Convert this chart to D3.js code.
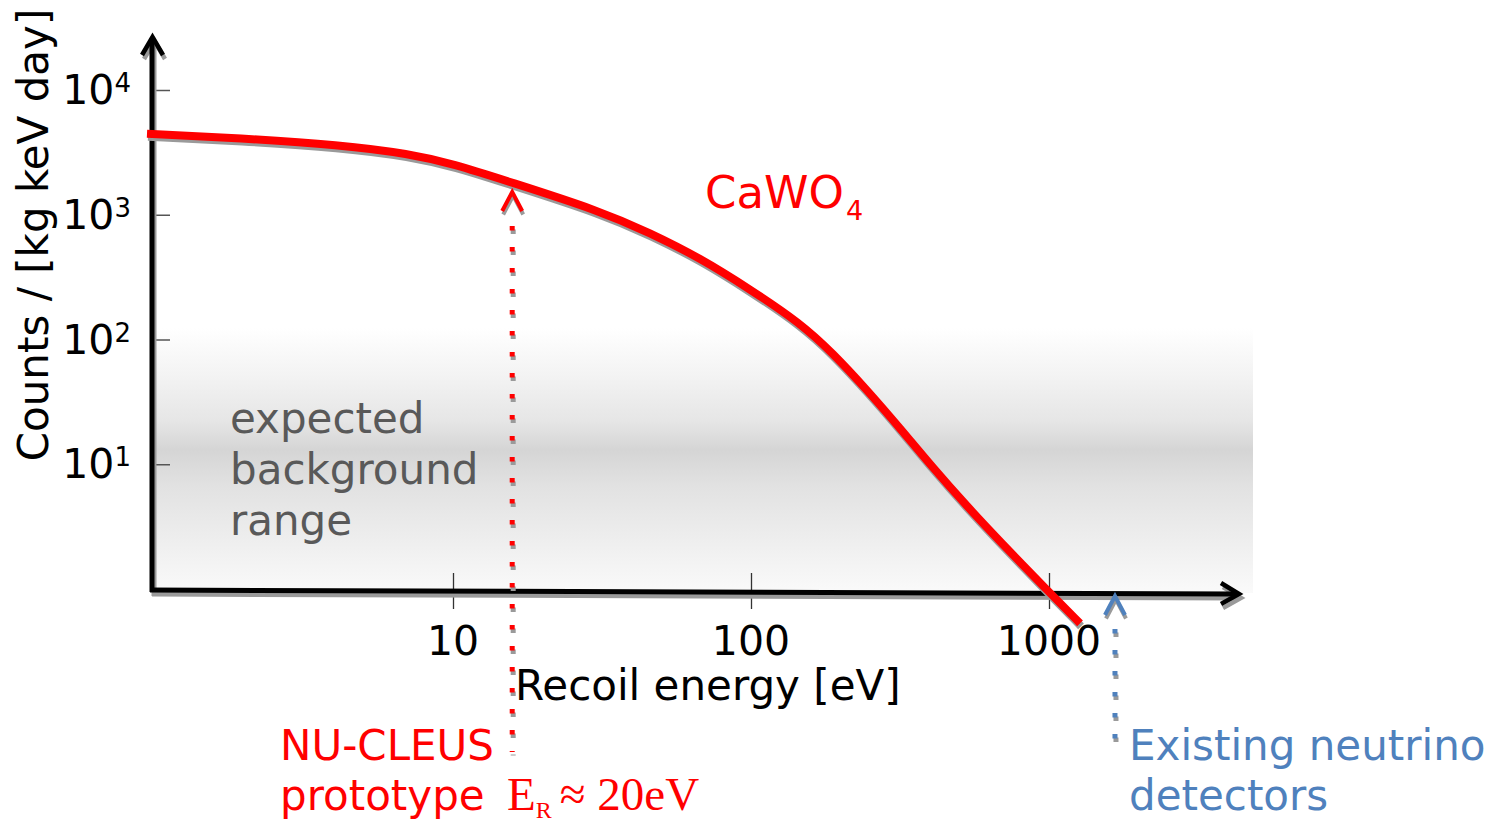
<!DOCTYPE html>
<html>
<head>
<meta charset="utf-8">
<script src="https://cdn.jsdelivr.net/npm/d3@7"></script>
<style>
  html, body { margin: 0; padding: 0; background: #fff; }
  svg { display: block; }
  text { font-family: "DejaVu Sans", sans-serif; }
</style>
</head>
<body>
<svg id="chart" width="1499" height="823"></svg>
<script>
// ---- data ----
const energies = [0.94, 1.93, 4.18, 7.17, 10, 15.5, 31.1, 45.8, 67.4, 100, 146, 188, 245, 316, 408, 531, 685, 1007, 1271]; // eV
const counts   = [4455, 4113, 3637, 3078, 2560, 1836, 1075, 716, 451, 250, 136, 78, 39.4, 19.5, 9.34, 4.6, 2.4, 0.93, 0.53];
const xTickValues = [10, 100, 1000];
const xTickLabels = ["10", "100", "1000"];
const yTickValues = [10, 100, 1000, 10000];
const yTickExponents = ["1", "2", "3", "4"];
const nucleusEnergy = 15.8;    // eV, NU-CLEUS prototype threshold marker
const existingEnergy = 1665;   // eV, existing neutrino detectors marker

const svg = d3.select("#chart");
const x = d3.scaleLog().domain([1, 10000]).range([155, 1347]);
const y = d3.scaleLog().domain([1, 10000]).range([589, 90]);

const RED = "#ff0000", BLUE = "#4f81bd", SHADOW = "#9a9a9a";

// ---- background gradient band ----
const defs = svg.append("defs");
const grad = defs.append("linearGradient").attr("id", "bg").attr("x1", 0).attr("y1", 0).attr("x2", 0).attr("y2", 1);
[[0, "#ffffff"], [0.18, "#f3f3f3"], [0.35, "#e6e6e6"], [0.46, "#d5d5d5"], [0.6, "#e2e2e2"], [0.8, "#eeeeee"], [1, "#fafafa"]]
  .forEach(([o, c]) => grad.append("stop").attr("offset", o).attr("stop-color", c));
svg.append("rect").attr("x", 152).attr("y", 328).attr("width", 1101).attr("height", 265).attr("fill", "url(#bg)");

// ---- background label ----
const bgText = svg.append("text").attr("x", 230).attr("font-size", 42).attr("fill", "#595959");
["expected", "background", "range"].forEach((t, i) =>
  bgText.append("tspan").attr("x", 230).attr("y", 433 + i * 51).text(t));

// ---- ticks ----
const gx = svg.append("g").attr("transform", "translate(0,591)")
  .call(d3.axisBottom(x).tickValues(xTickValues).tickSize(18).tickFormat(""));
gx.select(".domain").remove();
gx.selectAll(".tick line").attr("y1", -18).attr("stroke", "#333").attr("stroke-width", 1.3);

const gy = svg.append("g").attr("transform", "translate(152,0)")
  .call(d3.axisLeft(y).tickValues(yTickValues).tickSize(19).tickFormat(""));
gy.select(".domain").remove();
gy.selectAll(".tick line").attr("x2", 18).attr("stroke", "#555").attr("stroke-width", 1.5);

// x tick labels
svg.selectAll(".xlab").data(xTickValues).enter().append("text")
  .attr("class", "xlab").attr("x", d => x(d)).attr("y", 655)
  .attr("text-anchor", "middle").attr("font-size", 41).attr("fill", "#000")
  .text((d, i) => xTickLabels[i]);

// y tick labels (10^n)
yTickValues.forEach((v, i) => {
  const t = svg.append("text").attr("x", 131).attr("y", y(v) + 14)
    .attr("text-anchor", "end").attr("font-size", 41).attr("fill", "#000");
  t.append("tspan").text("10");
  t.append("tspan").attr("font-size", 26).attr("dy", -12).text(yTickExponents[i]);
});

// ---- axes with arrows and shadows ----
function axisLines(g, color, w) {
  g.append("line").attr("x1", 152).attr("y1", 592).attr("x2", 152).attr("y2", 38)
    .attr("stroke", color).attr("stroke-width", w);
  g.append("polyline").attr("points", "142,55 152.5,37 163,55")
    .attr("fill", "none").attr("stroke", color).attr("stroke-width", w - 0.5);
  g.append("line").attr("x1", 150).attr("y1", 590).attr("x2", 1237).attr("y2", 594)
    .attr("stroke", color).attr("stroke-width", w);
  g.append("polyline").attr("points", "1221,583 1239,594 1221,604")
    .attr("fill", "none").attr("stroke", color).attr("stroke-width", w - 0.5);
}
axisLines(svg.append("g").attr("transform", "translate(2,4)"), SHADOW, 5);
axisLines(svg.append("g"), "#000", 5);

// ---- curve ----
const pts = energies.map((e, i) => [e, counts[i]]);
const line = d3.line().x(d => x(d[0])).y(d => y(d[1])).curve(d3.curveBasis);
svg.append("path").attr("d", line(pts)).attr("transform", "translate(1,3)")
  .attr("fill", "none").attr("stroke", SHADOW).attr("stroke-width", 8);
svg.append("path").attr("d", line(pts))
  .attr("fill", "none").attr("stroke", RED).attr("stroke-width", 8);

// ---- dotted marker arrows ----
function marker(xp, yTip, yStart, yEnd, color) {
  [[SHADOW, 1, 3.5], [color, 0, 0]].forEach(([c, dx, dy]) => {
    const g = svg.append("g").attr("transform", `translate(${dx},${dy})`);
    g.append("line").attr("x1", xp).attr("x2", xp).attr("y1", yStart).attr("y2", yEnd)
      .attr("stroke", c).attr("stroke-width", 5).attr("stroke-dasharray", "4.5,16.5");
    g.append("polyline").attr("points", `${xp - 10},${yTip + 19} ${xp},${yTip} ${xp + 10},${yTip + 19}`)
      .attr("fill", "none").attr("stroke", c).attr("stroke-width", 4);
  });
}
marker(x(nucleusEnergy), 192, 226, 752, RED);
marker(x(existingEnergy), 596, 629, 752, BLUE);

// ---- labels ----
svg.append("text").attr("x", 705).attr("y", 208).attr("font-size", 45).attr("fill", RED)
  .call(t => { t.append("tspan").text("CaWO"); t.append("tspan").attr("font-size", 27).attr("dx", 2).attr("dy", 12).text("4"); });

svg.append("text").attr("x", 515).attr("y", 700).attr("font-size", 42).attr("fill", "#000")
  .text("Recoil energy [eV]");

svg.append("text").attr("transform", "translate(48,235) rotate(-90)")
  .attr("text-anchor", "middle").attr("font-size", 42).attr("fill", "#000")
  .text("Counts / [kg keV day]");

svg.append("text").attr("x", 280).attr("y", 760).attr("font-size", 42).attr("fill", RED).text("NU-CLEUS");
svg.append("text").attr("x", 280).attr("y", 810).attr("font-size", 42).attr("fill", RED).text("prototype");
const er = svg.append("text").attr("x", 507).attr("y", 810).attr("fill", RED)
  .style("font-family", "'Liberation Serif', 'DejaVu Serif', serif").attr("font-size", 47);
er.append("tspan").text("E");
er.append("tspan").attr("font-size", 24).attr("dy", 8).text("R");
er.append("tspan").attr("dy", -8).attr("dx", 8).text("≈ 20eV");

const ex = svg.append("text").attr("font-size", 42).attr("fill", BLUE);
ex.append("tspan").attr("x", 1129).attr("y", 760).text("Existing neutrino");
ex.append("tspan").attr("x", 1129).attr("y", 810).text("detectors");
</script>
</body>
</html>
